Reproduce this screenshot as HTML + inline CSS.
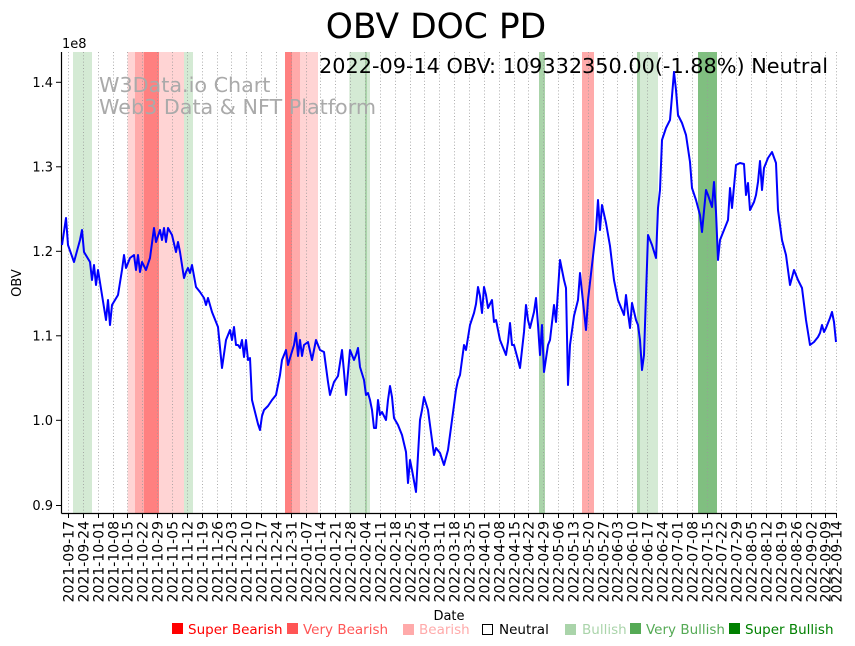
<!DOCTYPE html>
<html><head><meta charset="utf-8"><style>
html,body{margin:0;padding:0;background:#fff;}
svg{display:block;font-family:"DejaVu Sans","Liberation Sans",sans-serif;}
</style></head><body>
<svg width="855" height="646" viewBox="0 0 855 646" xmlns="http://www.w3.org/2000/svg">
<g>
<rect x="73" y="52" width="19" height="461" fill="#d4ead4"/>
<rect x="127.7" y="52" width="7.3" height="461" fill="#ffd4d4"/>
<rect x="135" y="52" width="9" height="461" fill="#ffaaaa"/>
<rect x="144" y="52" width="15" height="461" fill="#ff8080"/>
<rect x="159" y="52" width="25" height="461" fill="#ffd4d4"/>
<rect x="184" y="52" width="9" height="461" fill="#d4ead4"/>
<rect x="285" y="52" width="7" height="461" fill="#ff8080"/>
<rect x="292" y="52" width="8" height="461" fill="#ffaaaa"/>
<rect x="300" y="52" width="18" height="461" fill="#ffd4d4"/>
<rect x="349.3" y="52" width="20.7" height="461" fill="#d4ead4"/>
<rect x="365" y="52" width="2" height="461" fill="#aad4aa"/>
<rect x="539" y="52" width="6" height="461" fill="#aad4aa"/>
<rect x="582" y="52" width="12" height="461" fill="#ffaaaa"/>
<rect x="637" y="52" width="3" height="461" fill="#aad4aa"/>
<rect x="640" y="52" width="18" height="461" fill="#d4ead4"/>
<rect x="698" y="52" width="19" height="461" fill="#80bf80"/>
</g>
<g id="grid" stroke="#999" stroke-width="0.8" stroke-dasharray="1,2.2"></g>
<g id="ticks" stroke="#000" stroke-width="1"></g>
<g id="xl" font-size="14" fill="#000"></g>
<line x1="61.5" y1="52" x2="61.5" y2="513.5" stroke="#000" stroke-width="1.2"/>
<line x1="61.5" y1="513.5" x2="836" y2="513.5" stroke="#000" stroke-width="1.2"/>
<g font-size="13" text-anchor="end" fill="#000">
<line x1="56" y1="82.3" x2="61.5" y2="82.3" stroke="#000"/><text x="53" y="87">1.4</text>
<line x1="56" y1="166.8" x2="61.5" y2="166.8" stroke="#000"/><text x="53" y="171.5">1.3</text>
<line x1="56" y1="251.3" x2="61.5" y2="251.3" stroke="#000"/><text x="53" y="256">1.2</text>
<line x1="56" y1="335.8" x2="61.5" y2="335.8" stroke="#000"/><text x="53" y="340.5">1.1</text>
<line x1="56" y1="420.3" x2="61.5" y2="420.3" stroke="#000"/><text x="53" y="425">1.0</text>
<line x1="56" y1="505.5" x2="61.5" y2="505.5" stroke="#000"/><text x="53" y="510">0.9</text>
</g>
<text x="62" y="48" font-size="13">1e8</text>
<text x="21" y="283" font-size="13" text-anchor="middle" transform="rotate(-90 21 283)">OBV</text>
<text x="449" y="620" font-size="13" text-anchor="middle">Date</text>
<text x="99" y="92" font-size="20.7" fill="#aaa">W3Data.io Chart</text>
<text x="99" y="114" font-size="20.7" fill="#aaa">Web3 Data &amp; NFT Platform</text>
<text x="436" y="38" font-size="34.5" text-anchor="middle">OBV DOC PD</text>
<text x="828" y="73" font-size="20.8" text-anchor="end">2022-09-14 OBV: 109332350.00(-1.88%) Neutral</text>
<polyline fill="none" stroke="#0000ff" stroke-width="2" stroke-linejoin="round" points="62,245 66,218 68,245 74,262 80,240 82,230 84,252 90,262 92,280 94,265 96,285 98,270 102,295 106,320 108,300 110,325 112,305 118,295 122,270 124,255 126,268 130,258 134,255 136,270 138,255 140,272 142,262 146,270 150,258 154,228 156,242 160,230 162,240 164,228 166,242 168,228 172,235 176,252 178,242 180,252 184,278 186,272 188,268 190,273 192,265 196,287 200,292 204,298 206,305 208,298 212,312 216,322 218,327 222,368 226,340 228,335 230,330 232,340 234,327 236,345 238,345 240,348 242,340 244,357 246,340 248,360 250,358 252,400 256,416 258,424 260,430 262,416 264,410 268,406 272,400 276,395 280,375 282,360 286,350 288,365 290,358 294,345 296,333 298,356 300,340 302,356 304,345 308,342 312,360 316,340 320,350 324,352 328,382 330,395 334,382 338,376 342,350 344,372 346,395 350,350 354,360 356,355 358,348 360,367 364,380 366,395 368,393 370,400 372,410 374,428 376,428 378,400 380,415 382,412 386,420 388,400 390,386 392,397 394,418 398,425 402,435 406,452 408,483 410,460 412,470 416,492 418,455 420,420 422,410 424,397 428,410 432,440 434,455 436,448 440,453 444,465 448,450 452,420 456,390 458,380 460,375 462,360 464,345 466,350 470,325 474,313 476,304 478,287 480,296 482,313 484,287 486,295 488,308 492,300 494,322 496,320 500,340 504,350 506,355 508,342 510,323 512,345 514,345 518,360 520,368 524,332 526,305 528,320 530,328 534,312 536,298 538,325 540,355 542,325 544,372 548,345 550,340 554,305 556,322 558,290 560,260 562,270 564,280 566,288 568,385 570,345 574,316 578,300 580,273 582,292 586,330 588,300 592,265 596,230 598,200 600,230 602,205 606,223 610,246 614,280 618,300 622,310 624,315 626,295 628,313 630,328 632,303 636,320 638,325 640,340 642,370 644,355 648,235 652,245 656,258 658,208 660,190 662,140 666,128 670,120 674,72 676,90 678,115 682,123 686,135 690,162 692,188 696,200 700,215 702,232 706,190 708,195 712,207 714,182 716,212 718,260 720,240 724,230 728,220 730,188 732,208 736,165 740,163 744,164 746,195 748,183 750,210 754,202 756,195 758,182 760,161 762,190 764,168 768,158 772,152 776,163 778,210 782,240 786,255 790,285 794,270 798,280 802,288 806,320 810,345 814,342 818,337 820,333 822,325 824,332 826,328 830,318 832,312 834,322 836,342"/>
<g font-size="13.5">
<rect x="172" y="623" width="11" height="11" fill="#ff0000"/><text x="188" y="634" fill="#ff0000">Super Bearish</text>
<rect x="287" y="623" width="11" height="11" fill="#ff5555"/><text x="303" y="634" fill="#ff5555">Very Bearish</text>
<rect x="403" y="624" width="11" height="11" fill="#ffaaaa"/><text x="419" y="634" fill="#ffaaaa">Bearish</text>
<rect x="482.5" y="624.5" width="10" height="10" fill="none" stroke="#000"/><text x="499" y="634" fill="#000">Neutral</text>
<rect x="565" y="624" width="11" height="11" fill="#aad4aa"/><text x="582" y="634" fill="#aad4aa">Bullish</text>
<rect x="630" y="623" width="11" height="11" fill="#55aa55"/><text x="646" y="634" fill="#55aa55">Very Bullish</text>
<rect x="729" y="623" width="11" height="11" fill="#008000"/><text x="745" y="634" fill="#008000">Super Bullish</text>
</g>
<script>
(function(){
var ns="http://www.w3.org/2000/svg";
var g=document.getElementById("grid"),t=document.getElementById("ticks"),xl=document.getElementById("xl");
var start=Date.UTC(2021,8,17),ppd=(836-68)/362;
function pad(n){return (n<10?"0":"")+n;}
var days=[];for(var d=0;d<=357;d+=7)days.push(d);days.push(362);
days.forEach(function(d){
 var x=Math.round(68+d*ppd)+0.5;
 var l=document.createElementNS(ns,"line");l.setAttribute("x1",x);l.setAttribute("x2",x);l.setAttribute("y1",52);l.setAttribute("y2",513);g.appendChild(l);
 var k=document.createElementNS(ns,"line");k.setAttribute("x1",x);k.setAttribute("x2",x);k.setAttribute("y1",513);k.setAttribute("y2",518);t.appendChild(k);
 var dt=new Date(start+d*86400000);
 var s=dt.getUTCFullYear()+"-"+pad(dt.getUTCMonth()+1)+"-"+pad(dt.getUTCDate());
 var tx=document.createElementNS(ns,"text");tx.setAttribute("x",x+5);tx.setAttribute("y",521);tx.setAttribute("text-anchor","end");
 tx.setAttribute("transform","rotate(-90 "+(x+5)+" 521)");tx.textContent=s;xl.appendChild(tx);
});
})();
</script>
</svg>
</body></html>
